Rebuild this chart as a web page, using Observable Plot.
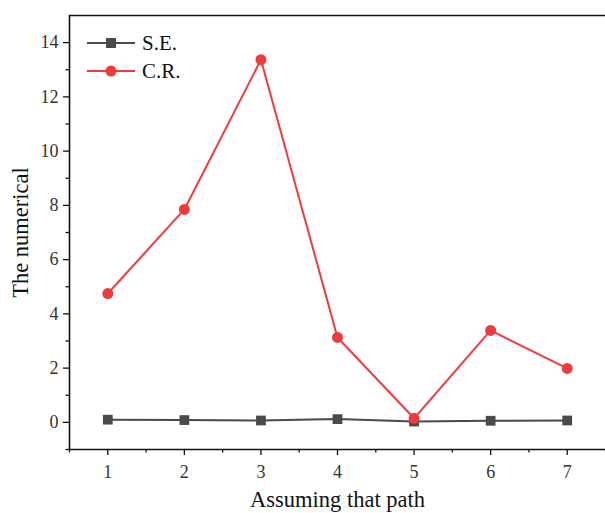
<!DOCTYPE html>
<html><head><meta charset="utf-8">
<script src="https://cdn.jsdelivr.net/npm/d3@7"></script>
<script src="https://cdn.jsdelivr.net/npm/@observablehq/plot@0.6"></script>
<style>
body{margin:0;background:#fff;}
#wrap{position:relative;width:605px;height:513px;overflow:hidden;font-family:"Liberation Serif",serif;}
#legend{position:absolute;left:86px;top:29px;font-size:21px;color:#111;}
#legend .row{display:flex;align-items:center;height:28px;}
#legend svg{margin-right:6px;}
</style></head>
<body><div id="wrap"><div id="chart"></div><div id="legend"></div></div>
<script>
const paths = [1, 2, 3, 4, 5, 6, 7];
const seValues = [0.10, 0.085, 0.07, 0.12, 0.03, 0.06, 0.07];
const crValues = [4.75, 7.85, 13.37, 3.13, 0.15, 3.39, 1.99];
const seriesNames = ["S.E.", "C.R."];
const seriesColors = ["#4a4a4a", "#ef3b3d"];
const yMajorTicks = [0, 2, 4, 6, 8, 10, 12, 14];
const yMinorTicks = [-1, 1, 3, 5, 7, 9, 11, 13];
const xMinorTicks = [0.5, 1.5, 2.5, 3.5, 4.5, 5.5, 6.5, 7.5];

const se = paths.map((p, i) => ({path: p, value: seValues[i]}));
const cr = paths.map((p, i) => ({path: p, value: crValues[i]}));

const chart = Plot.plot({
  width: 605, height: 513,
  marginLeft: 69, marginRight: 0, marginTop: 15, marginBottom: 64,
  style: {fontFamily: "Liberation Serif, serif", background: "#fff"},
  x: {domain: [0.5, 7.5]},
  y: {domain: [-1, 15]},
  marks: [
    Plot.axisY({ticks: yMajorTicks, tickSize: 6, tickPadding: 5, fontSize: 18, color: "#333", stroke: "#111", strokeWidth: 1.3, label: null}),
    Plot.axisY({ticks: yMinorTicks, tickSize: 3.5, text: null, stroke: "#111", strokeWidth: 1.3, label: null}),
    Plot.axisX({ticks: paths, tickFormat: "d", tickSize: 6, tickPadding: 10, fontSize: 18, color: "#333", stroke: "#111", strokeWidth: 1.3, label: null}),
    Plot.axisX({ticks: xMinorTicks, tickSize: 3.5, text: null, stroke: "#111", strokeWidth: 1.3, label: null}),
    Plot.ruleX([0.5], {stroke: "#111", strokeWidth: 1.6}),
    Plot.ruleY([-1], {stroke: "#111", strokeWidth: 1.6}),
    Plot.ruleY([15], {stroke: "#111", strokeWidth: 1.6}),
    Plot.line(se, {x: "path", y: "value", stroke: seriesColors[0], strokeWidth: 2}),
    Plot.dot(se, {x: "path", y: "value", symbol: "square", r: 5.5, fill: seriesColors[0], stroke: "none"}),
    Plot.line(cr, {x: "path", y: "value", stroke: seriesColors[1], strokeWidth: 2}),
    Plot.dot(cr, {x: "path", y: "value", symbol: "circle", r: 5.5, fill: seriesColors[1], stroke: "none"}),
    Plot.text(["The numerical"], {frameAnchor: "left", textAnchor: "middle", dx: -49, rotate: -90, fontSize: 22.5, fill: "#111", text: d => d}),
    Plot.text(["Assuming that path"], {frameAnchor: "bottom", dy: 57, fontSize: 22.5, fill: "#111", text: d => d})
  ]
});
document.getElementById("chart").appendChild(chart);

const legend = document.getElementById("legend");
seriesNames.forEach((name, i) => {
  const row = document.createElement("div");
  row.className = "row";
  const marker = i === 0
    ? `<rect x="20" y="9" width="10" height="10" fill="${seriesColors[i]}"/>`
    : `<circle cx="25" cy="14" r="5.5" fill="${seriesColors[i]}"/>`;
  row.innerHTML = `<svg width="50" height="28"><line x1="1" x2="49" y1="14" y2="14" stroke="${seriesColors[i]}" stroke-width="2"/>${marker}</svg><span>${name}</span>`;
  legend.appendChild(row);
});
</script></body></html>
